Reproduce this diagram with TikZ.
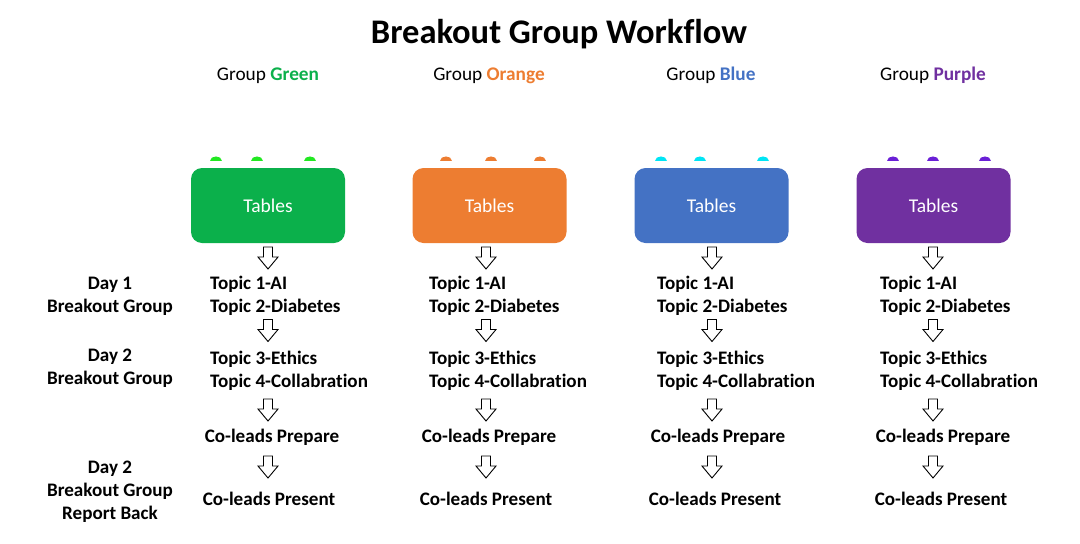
\documentclass[tikz,border=0pt]{standalone}
\usepackage{fontspec}
\setmainfont{Carlito}[Ligatures={NoCommon}]
\definecolor{cgreen}{HTML}{0BB04B}
\definecolor{corange}{HTML}{ED7D31}
\definecolor{cblue}{HTML}{4472C4}
\definecolor{cpurple}{HTML}{7030A0}
\definecolor{dgreen}{HTML}{22E822}
\definecolor{dorange}{HTML}{ED7D31}
\definecolor{dblue}{HTML}{00E5F5}
\definecolor{dpurple}{HTML}{6A1FD6}
\begin{document}
\begin{tikzpicture}[x=1pt,y=-1pt,
  title/.style={font=\fontsize{34.5}{40}\selectfont\bfseries, anchor=base, inner sep=0},
  glabel/.style={font=\fontsize{19.3}{22}\selectfont, anchor=base, inner sep=0},
  tbox/.style={rounded corners=11pt, minimum width=154pt, minimum height=75pt, inner sep=0,
    text=white, font=\fontsize{19.5}{22}\selectfont},
  topic/.style={font=\fontsize{19.1}{22}\selectfont\bfseries, anchor=base west, inner sep=0},
  ctext/.style={font=\fontsize{19.1}{22}\selectfont\bfseries, anchor=base, inner sep=0},
  day/.style={font=\fontsize{19.1}{22}\selectfont\bfseries, anchor=base, inner sep=0},
  barrow/.pic={\draw[line width=0.9pt, fill=white, line join=miter]
     (-4.5,0) -- (4.5,0) -- (4.5,10) -- (10,10) -- (0,22) -- (-10,10) -- (-4.5,10) -- cycle;},
]
\useasboundingbox (0,0) rectangle (1080,544);

\node[title] (t) at (559,43) {Breakout Group Workflow};

% day labels
\node[day] (d1a) at (110,289) {Day 1};
\node[day] (d1b) at (110,312) {Breakout Group};
\node[day] (d2a) at (110,361) {Day 2};
\node[day] (d2b) at (110,384) {Breakout Group};
\node[day] (d3a) at (110,473) {Day 2};
\node[day] (d3b) at (110,496) {Breakout Group};
\node[day] (d3c) at (110,519) {Report Back};

% columns
\foreach \n/\cx/\bx/\ax/\tx/\px/\qx/\col/\dc/\da/\db/\dd/\word in {
  g/268/268/268/210/272/269/cgreen/dgreen/216/257/310/Green,
  o/489/489.5/486/429/489/486/corange/dorange/446/491/540/Orange,
  b/711/711.5/712/657/718/715/cblue/dblue/661/700/763/Blue,
  p/933/933.5/933/880/943/941/cpurple/dpurple/893/933/985/Purple}{
  \node[glabel] (lab\n) at (\cx,80) {Group \textbf{\textcolor{\col}{\word}}};
  \foreach \dx in {\da,\db,\dd}{
    \fill[\dc] (\dx-6,161) .. controls (\dx-6,154.5) and (\dx+6,154.5) .. (\dx+6,161) -- cycle;
  }
  \node[tbox, fill=\col] (box\n) at (\bx,205.5) {\raisebox{-1pt}{Tables}};
  \pic at (\ax,247) {barrow};
  \node[topic] (t1\n) at (\tx,289) {Topic 1-AI};
  \node[topic] (t2\n) at (\tx,312) {Topic 2-Diabetes};
  \pic at (\ax,319.5) {barrow};
  \node[topic] (t3\n) at (\tx,364) {Topic 3-Ethics};
  \node[topic] (t4\n) at (\tx,387) {Topic 4-Collabration};
  \pic at (\ax,399) {barrow};
  \node[ctext] (cp\n) at (\px,442) {Co-leads Prepare};
  \pic at (\ax,456) {barrow};
  \node[ctext] (cq\n) at (\qx,505) {Co-leads Present};
}
\end{tikzpicture}
\end{document}
